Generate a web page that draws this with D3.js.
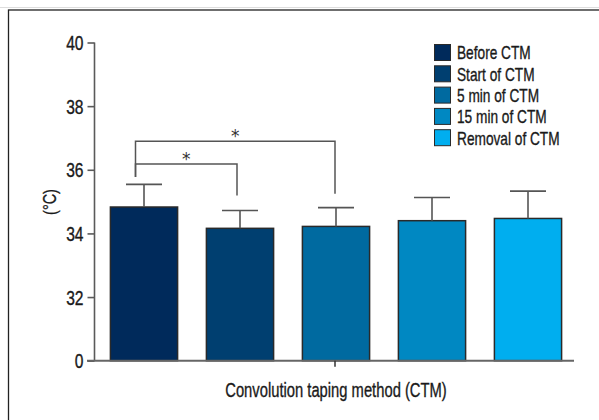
<!DOCTYPE html>
<html><head><meta charset="utf-8">
<script src="https://cdn.jsdelivr.net/npm/d3@7"></script>
<style>
html,body{margin:0;padding:0;background:#fff;}
svg{display:block;}
text{font-family:"Liberation Sans",Arial,sans-serif;fill:#1a1a1a;stroke:#1a1a1a;stroke-width:0.35px;}
</style></head>
<body>
<script>
const categories = ["Before CTM","Start of CTM","5 min of CTM","15 min of CTM","Removal of CTM"];
const means = [34.83, 34.16, 34.22, 34.40, 34.47];
const errUpper = [35.54, 34.72, 34.81, 35.13, 35.33];
const colors = ["#002a5b","#003f70","#006aa0","#0088c2","#00aeef"];
const tickValues = [30, 32, 34, 36, 38, 40];
const tickLabels = ["0","32","34","36","38","40"];
// significance brackets
const brackets = [
  {a:0, b:1, level:36.18, leftEnd:35.77, rightEnd:35.19},
  {a:0, b:2, level:36.90, leftEnd:35.77, rightEnd:35.25}
];

const W = 599, H = 420;
const svg = d3.select("body").append("svg").attr("width", W).attr("height", H);

// condense text horizontally (mimic a condensed typeface)
function condense(sel, f){
  sel.each(function(){
    const n = this.getComputedTextLength();
    d3.select(this).attr("textLength", n*f).attr("lengthAdjust","spacingAndGlyphs");
  });
}

// frame
svg.append("line").attr("x1",0).attr("x2",W).attr("y1",7.5).attr("y2",7.5).attr("stroke","#ddd").attr("stroke-width",1);
svg.append("rect").attr("x",8.5).attr("y",10).attr("width",W+20).attr("height",H+20)
  .attr("fill","none").attr("stroke","#222").attr("stroke-width",1.3);

const y = d3.scaleLinear().domain([30,40]).range([360.7, 42.5]);
const x = d3.scaleBand().domain(categories).range([96,576]).paddingInner(0.3).paddingOuter(0.15);

const axisColor = "#5a5a5a";

// y axis
const yAxis = d3.axisLeft(y).tickValues(tickValues).tickSize(7).tickFormat((d,i)=>tickLabels[i]);
const gy = svg.append("g").attr("transform","translate(94.5,0)").call(yAxis);
gy.select(".domain").attr("stroke",axisColor).attr("stroke-width",1.6).attr("d",`M0,${y(40)}V${y(30)}`);
gy.selectAll(".tick line").attr("stroke",axisColor).attr("stroke-width",1.6);
gy.selectAll(".tick text").attr("x",-11).attr("dy","0.36em").style("font-size","19.5px")
  .style("font-family","'Liberation Sans',Arial,sans-serif").style("fill","#1a1a1a").call(condense,0.8);

// bars
svg.append("g").selectAll("rect").data(categories).join("rect")
  .attr("x", d=>x(d)).attr("width", x.bandwidth())
  .attr("y", (d,i)=>y(means[i])).attr("height",(d,i)=>y(30)-y(means[i]))
  .attr("fill",(d,i)=>colors[i]).attr("stroke","#2a2a2a").attr("stroke-width",1.5);

// error bars
const eg = svg.append("g").attr("stroke","#555").attr("stroke-width",1.6);
categories.forEach((c,i)=>{
  const cx = x(c)+x.bandwidth()/2;
  eg.append("line").attr("x1",cx).attr("x2",cx).attr("y1",y(means[i])).attr("y2",y(errUpper[i]));
  eg.append("line").attr("x1",cx-18).attr("x2",cx+18).attr("y1",y(errUpper[i])).attr("y2",y(errUpper[i]));
});

// x axis
const gx = svg.append("g");
gx.append("line").attr("x1",87).attr("x2",574).attr("y1",y(30)).attr("y2",y(30)).attr("stroke","#666").attr("stroke-width",2);
const midC = categories[2];
gx.append("line").attr("x1",x(midC)+x.bandwidth()/2-1).attr("x2",x(midC)+x.bandwidth()/2-1)
  .attr("y1",y(30)).attr("y2",y(30)+6).attr("stroke","#333").attr("stroke-width",1.5);

// brackets
const bg = svg.append("g");
brackets.forEach(b=>{
  const xl = x(categories[b.a])+x.bandwidth()/2-8.5;
  const xr = x(categories[b.b])+x.bandwidth()/2-(b.b===1?3:1);
  bg.append("path").attr("d",`M${xl},${y(b.leftEnd)}V${y(b.level)}H${xr}V${y(b.rightEnd)}`)
    .attr("fill","none").attr("stroke","#555").attr("stroke-width",1.5);
  bg.append("text").attr("x",(xl+xr)/2).attr("y",y(b.level)+1).attr("text-anchor","middle")
    .style("font-size","17px").style("font-family","DejaVu Sans").style("fill","#333").style("stroke","none").text("*");
});

// legend
const lg = svg.append("g").attr("transform","translate(434,44)");
categories.forEach((c,i)=>{
  const row = lg.append("g").attr("transform",`translate(0,${i*21.3})`);
  row.append("rect").attr("x",0.5).attr("y",0.5).attr("width",16).attr("height",16)
    .attr("fill",colors[i]).attr("stroke","#2a2a2a").attr("stroke-width",1);
  row.append("text").attr("x",23).attr("y",8.5).attr("dy","0.36em").style("font-size","19px").text(c).call(condense,0.72);
});

// axis titles
svg.append("text").attr("transform","translate(56,202) rotate(-90)").attr("text-anchor","middle")
  .style("font-size","19px").text("(°C)").call(condense,0.76);
svg.append("text").attr("x",336).attr("y",397).attr("text-anchor","middle")
  .style("font-size","20.5px").text("Convolution taping method (CTM)").call(condense,0.72);
</script>
</body></html>
